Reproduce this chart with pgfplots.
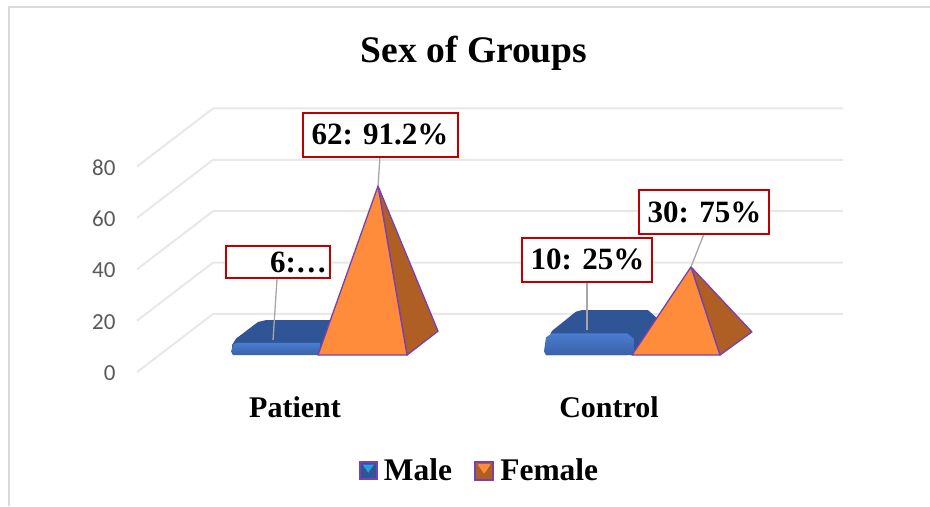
\documentclass[border=0pt]{standalone}
\usepackage{fontspec}
\setmainfont{Liberation Serif}
\newfontfamily\tickf{Carlito}
\usepackage{pgfplots}
\pgfplotsset{compat=1.18}
\definecolor{gridc}{HTML}{E8E8E8}
\definecolor{framec}{HTML}{DADADA}
\definecolor{ticktxt}{HTML}{595959}
\definecolor{redbox}{HTML}{C00000}
\definecolor{orangeF}{HTML}{FF8C3A}
\definecolor{orangeS}{HTML}{B05F24}
\definecolor{edgeP}{HTML}{7A3FB0}
\definecolor{blueF}{HTML}{4A7CD0}
\definecolor{blueD}{HTML}{3A62A8}
\definecolor{blueT}{HTML}{2F5597}
\definecolor{leader}{HTML}{A6A6A6}
\tikzset{
 lblbox/.style={draw=redbox,line width=2pt,fill=white,inner sep=0pt,anchor=center,align=center,
   font=\fontsize{31}{31}\selectfont\bfseries},
}
\begin{document}
\begin{tikzpicture}
\begin{axis}[
  scale only axis,width=930pt,height=506pt,
  xmin=0,xmax=930,ymin=-52.14,ymax=144.75,
  axis line style={draw=none},major tick length=0pt,
  clip=true,
  ytick={0,20,40,60,80},
  yticklabel style={anchor=east,xshift=119pt,yshift=-1pt,text=ticktxt,font=\fontsize{23}{23}\selectfont\tickf},
  /pgf/number format/assume math mode=true,
  xtick={295,609},xticklabels={Patient,Control},
  xticklabel style={anchor=center,yshift=99pt,font=\fontsize{30}{30}\selectfont\bfseries,text=black},
  legend columns=2,
  legend style={draw=none,fill=none,at={(axis cs:479.5,-38.4)},anchor=center,
     font=\fontsize{31.5}{32}\selectfont\bfseries,inner sep=0pt,
     /tikz/every even column/.append style={column sep=20pt}},
  legend cell align=left,
]
% frame
\addplot[framec,line width=2pt,forget plot] coordinates {(9,-52.14) (9,142) (930,142)};
% gridlines
\addplot[gridc,line width=2pt,forget plot] coordinates {(137,0) (213,22.6) (843,22.6)};
\addplot[gridc,line width=2pt,forget plot] coordinates {(137,20) (213,42.6) (843,42.6)};
\addplot[gridc,line width=2pt,forget plot] coordinates {(137,40) (213,62.6) (843,62.6)};
\addplot[gridc,line width=2pt,forget plot] coordinates {(137,60) (213,82.6) (843,82.6)};
\addplot[gridc,line width=2pt,forget plot] coordinates {(137,80) (213,102.6) (843,102.6)};
% Patient male slab
\addplot[draw=none,fill=blueT,
  legend image code/.code={
    \fill[edgeP] (0pt,-9.5pt) rectangle (19pt,9.5pt);
    \fill[blueT] (2pt,-7.5pt) rectangle (17pt,7.5pt);
    \fill[blue!20!cyan!40!blueF] (4pt,6pt) -- (15pt,6pt) -- (9.5pt,-2pt) -- cycle;
    \path (23pt,0pt);
  }] coordinates {(232,10.5) (236,13) (258,19.5) (266,20.2) (334,20.2) (334,7) (232,7)} -- cycle;
\addlegendentry{Male}
\addplot[draw=none,top color=blueF,bottom color=blueD,forget plot] coordinates {(231,8) (233,10.6) (236,11.3) (320,11.3) (320,6.6) (233,6.6)} -- cycle;
% Patient female pyramid
\addplot[draw=edgeP,line width=1.3pt,fill=orangeS,forget plot,line join=round] coordinates {(407,6.6) (438,15.9) (378,72.4)} -- cycle;
\addplot[draw=edgeP,line width=1.3pt,fill=orangeF,line join=round,
  legend image code/.code={
    \fill[edgeP] (0pt,-9.5pt) rectangle (19pt,9.5pt);
    \fill[orangeS] (2pt,-7.5pt) rectangle (17pt,7.5pt);
    \fill[orangeF] (4pt,6pt) -- (15pt,6pt) -- (9.5pt,-2pt) -- cycle;
    \path (23pt,0pt);
  }] coordinates {(318,6.6) (407,6.6) (378,72.4)} -- cycle;
\addlegendentry{Female}
% Control male slab
\addplot[draw=none,fill=blueT,forget plot] coordinates {(546,11) (552,16) (576,23.5) (582,24.1) (648,24.1) (657,21) (657,14) (627,6.6) (546,6.6)} -- cycle;
\addplot[draw=none,top color=blueF,bottom color=blueD,forget plot] coordinates {(544,8) (546,13.5) (552,15) (627,15) (634,13) (634,6.6) (546,6.6)} -- cycle;
% Control female pyramid
\addplot[draw=edgeP,line width=1.3pt,fill=orangeS,forget plot,line join=round] coordinates {(720,6.6) (752,15.6) (691,40.9)} -- cycle;
\addplot[draw=edgeP,line width=1.3pt,fill=orangeF,forget plot,line join=round] coordinates {(632,6.6) (720,6.6) (691,40.9)} -- cycle;
% leaders
\addplot[leader,line width=1.3pt,forget plot] coordinates {(380,84) (378,72.4)};
\addplot[leader,line width=1.3pt,forget plot] coordinates {(277,36.5) (273,12.5)};
\addplot[leader,line width=1.3pt,forget plot] coordinates {(587,35) (587,16.5)};
\addplot[leader,line width=1.3pt,forget plot] coordinates {(704,53.7) (691,40.9)};
% labels
\node[lblbox,minimum width=155pt,minimum height=44pt] at (axis cs:380,92.4) {62: 91.2\%};
\node[lblbox,minimum width=104pt,minimum height=32pt] at (axis cs:277.5,43) {};
\node[anchor=east,font=\fontsize{31}{31}\selectfont\bfseries,inner sep=0pt] at (axis cs:327,42.5) {6:\ldots};
\node[lblbox,minimum width=130pt,minimum height=44pt] at (axis cs:587.5,43.7) {10: 25\%};
\node[lblbox,minimum width=130pt,minimum height=44pt] at (axis cs:704.5,62.2) {30: 75\%};
% title
\node[font=\fontsize{37.5}{37.5}\selectfont\bfseries,anchor=center] at (axis cs:474,124) {Sex of Groups};
\end{axis}
\end{tikzpicture}
\end{document}
